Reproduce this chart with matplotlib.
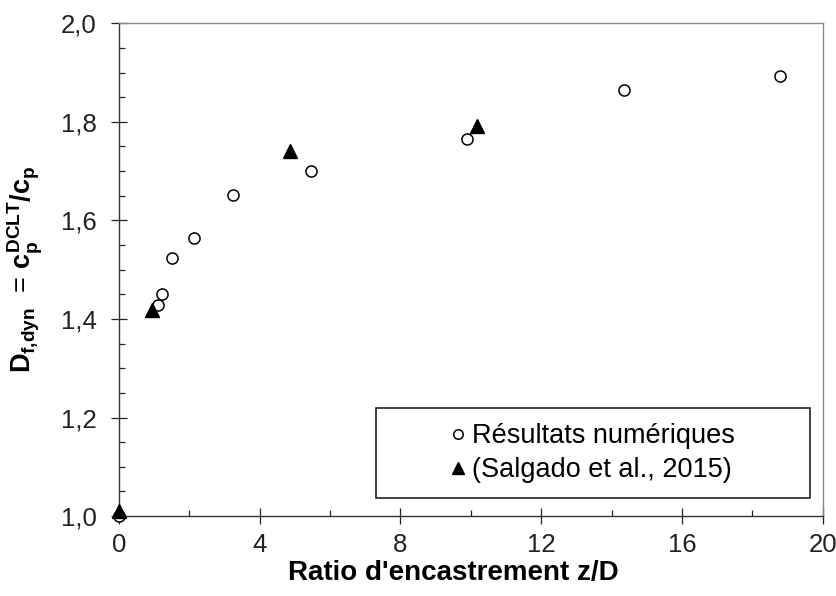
import matplotlib.pyplot as plt
from matplotlib.ticker import MultipleLocator, FuncFormatter
from matplotlib.patches import Rectangle

# Numerical results (open circles)
num_x = [0.0, 1.12, 1.23, 1.51, 2.13, 3.25, 5.45, 9.9, 14.35, 18.79]
num_y = [1.0, 1.428, 1.45, 1.524, 1.565, 1.651, 1.70, 1.766, 1.865, 1.892]

# Salgado et al., 2015 (filled triangles)
sal_x = [0.0, 0.94, 4.86, 10.19]
sal_y = [1.01, 1.419, 1.74, 1.792]

plt.rcParams['font.family'] = ['Liberation Sans', 'DejaVu Sans']
plt.rcParams['mathtext.fontset'] = 'custom'
plt.rcParams['mathtext.rm'] = 'Liberation Sans:bold'
plt.rcParams['mathtext.it'] = 'Liberation Sans:bold'
plt.rcParams['mathtext.bf'] = 'Liberation Sans:bold'

fig = plt.figure(figsize=(8.37, 5.96), dpi=100)
ax = fig.add_axes([0.142, 0.134, 0.841, 0.827])

ax.plot(num_x, num_y, linestyle='none', marker='o', markersize=8,
        markerfacecolor='white', markeredgecolor='black', markeredgewidth=1.1,
        clip_on=False, zorder=3, label='Résultats numériques')
ax.plot(sal_x, sal_y, linestyle='none', marker='^', markersize=10,
        color='black', clip_on=False, zorder=4, label='(Salgado et al., 2015)')

ax.set_xlim(0, 20)
ax.set_ylim(1.0, 2.0)
ax.xaxis.set_major_locator(MultipleLocator(4))
ax.xaxis.set_minor_locator(MultipleLocator(2))
ax.yaxis.set_major_locator(MultipleLocator(0.2))
ax.yaxis.set_minor_locator(MultipleLocator(0.05))
ax.yaxis.set_major_formatter(FuncFormatter(lambda v, p: f"{v:.1f}".replace('.', ',')))

ax.tick_params(which='major', direction='inout', length=11, width=0.9,
               labelsize=18.5, colors='#222222')
ax.tick_params(axis='y', which='major', pad=10.5)
ax.tick_params(axis='x', which='major', pad=7)
ax.tick_params(which='minor', direction='in', length=4.5, width=0.9, colors='#222222')

for side in ['left', 'bottom']:
    ax.spines[side].set_color('#333333')
    ax.spines[side].set_linewidth(1.0)
for side in ['top', 'right']:
    ax.spines[side].set_color('#888888')
    ax.spines[side].set_linewidth(1.0)

ax.set_xlabel("Ratio d'encastrement z/D", fontsize=20, fontweight='bold', labelpad=2)
ax.xaxis.label.set_x(0.475)  # label sits a bit left of the axes centre
ax.set_ylabel(r'$D_{f{,}dyn}$  = $c_p^{DCLT}/c_p$', fontsize=19.5, labelpad=11)

# Legend frame drawn separately so the entries stay centered in the box
ax.add_patch(Rectangle((0.366, 0.0365), 0.616, 0.183, transform=ax.transAxes,
                       fill=False, edgecolor='#222222', linewidth=1.2, zorder=5))
leg = ax.legend(loc='center', bbox_to_anchor=(0.674, 0.128), frameon=False,
                fontsize=19.5, handlelength=0.5, handletextpad=0.25,
                labelspacing=0.3, markerscale=0.85)

plt.savefig('out.png', dpi=100)
